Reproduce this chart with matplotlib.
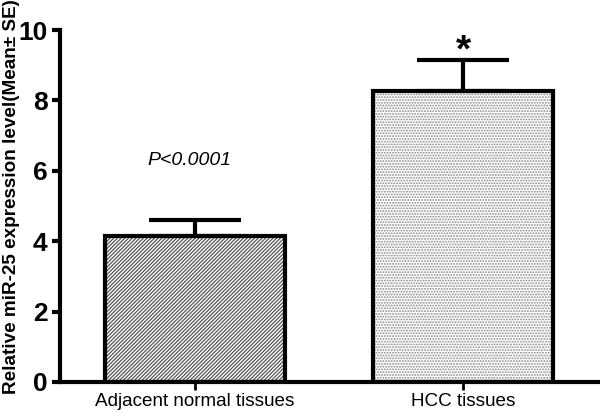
import matplotlib
matplotlib.use("Agg")
import matplotlib.pyplot as plt
import numpy as np

categories = ["Adjacent normal tissues", "HCC tissues"]
means = [4.16, 8.27]
se = [0.43, 0.88]
yticks = [0, 2, 4, 6, 8, 10]
hatches = ["/////////", "......"]

plt.rcParams['font.family'] = ['Liberation Sans', 'DejaVu Sans']
plt.rcParams['hatch.linewidth'] = 0.9
fig = plt.figure(figsize=(6, 4.17), dpi=100)
ax = fig.add_axes([0.1, 0.084, 0.9, 0.844])

x = np.arange(len(categories))
width = 0.67
lw = 3.0
ax.bar(x, means, width, color='white', linewidth=0, zorder=1)
for i in range(len(x)):
    ax.bar(x[i], means[i], width, color='none', edgecolor='#555555' if i == 0 else '#888888',
           hatch=hatches[i], linewidth=0, zorder=2)
ax.bar(x, means, width, color='none', edgecolor='black', linewidth=lw, zorder=3)
ax.errorbar(x, means, yerr=[[0, 0], se], fmt='none', ecolor='black', elinewidth=lw,
            capsize=33, capthick=lw, zorder=2)

ax.set_xlim(-0.504, 1.51)
ax.set_ylim(0, 10)
ax.set_yticks(yticks)
ax.set_yticklabels([str(t) for t in yticks], fontsize=19, fontweight='bold')
ax.set_xticks(x)
ax.set_xticklabels(categories, fontsize=13.6)
ax.tick_params(axis='y', length=6, width=lw, direction='out', pad=3)
ax.tick_params(axis='x', length=6, width=2, direction='out', pad=2)
for s in ['top', 'right']:
    ax.spines[s].set_visible(False)
ax.spines['left'].set_linewidth(lw)
ax.spines['bottom'].set_linewidth(lw)
fig.text(12 / 600, 1 - 197 / 417, "Relative miR-25 expression level(Mean\u00b1 SE)", fontsize=13.6,
         fontweight='bold', rotation=90, ha='center', va='center')

ax.text(x[0] - 0.02, 6.3, "P<0.0001", fontsize=14, style='italic', ha='center', va='center')
ax.text(x[1], 9.4, "*", fontsize=28, fontweight='bold', ha='center', va='center')

fig.savefig("out.png", dpi=100)
